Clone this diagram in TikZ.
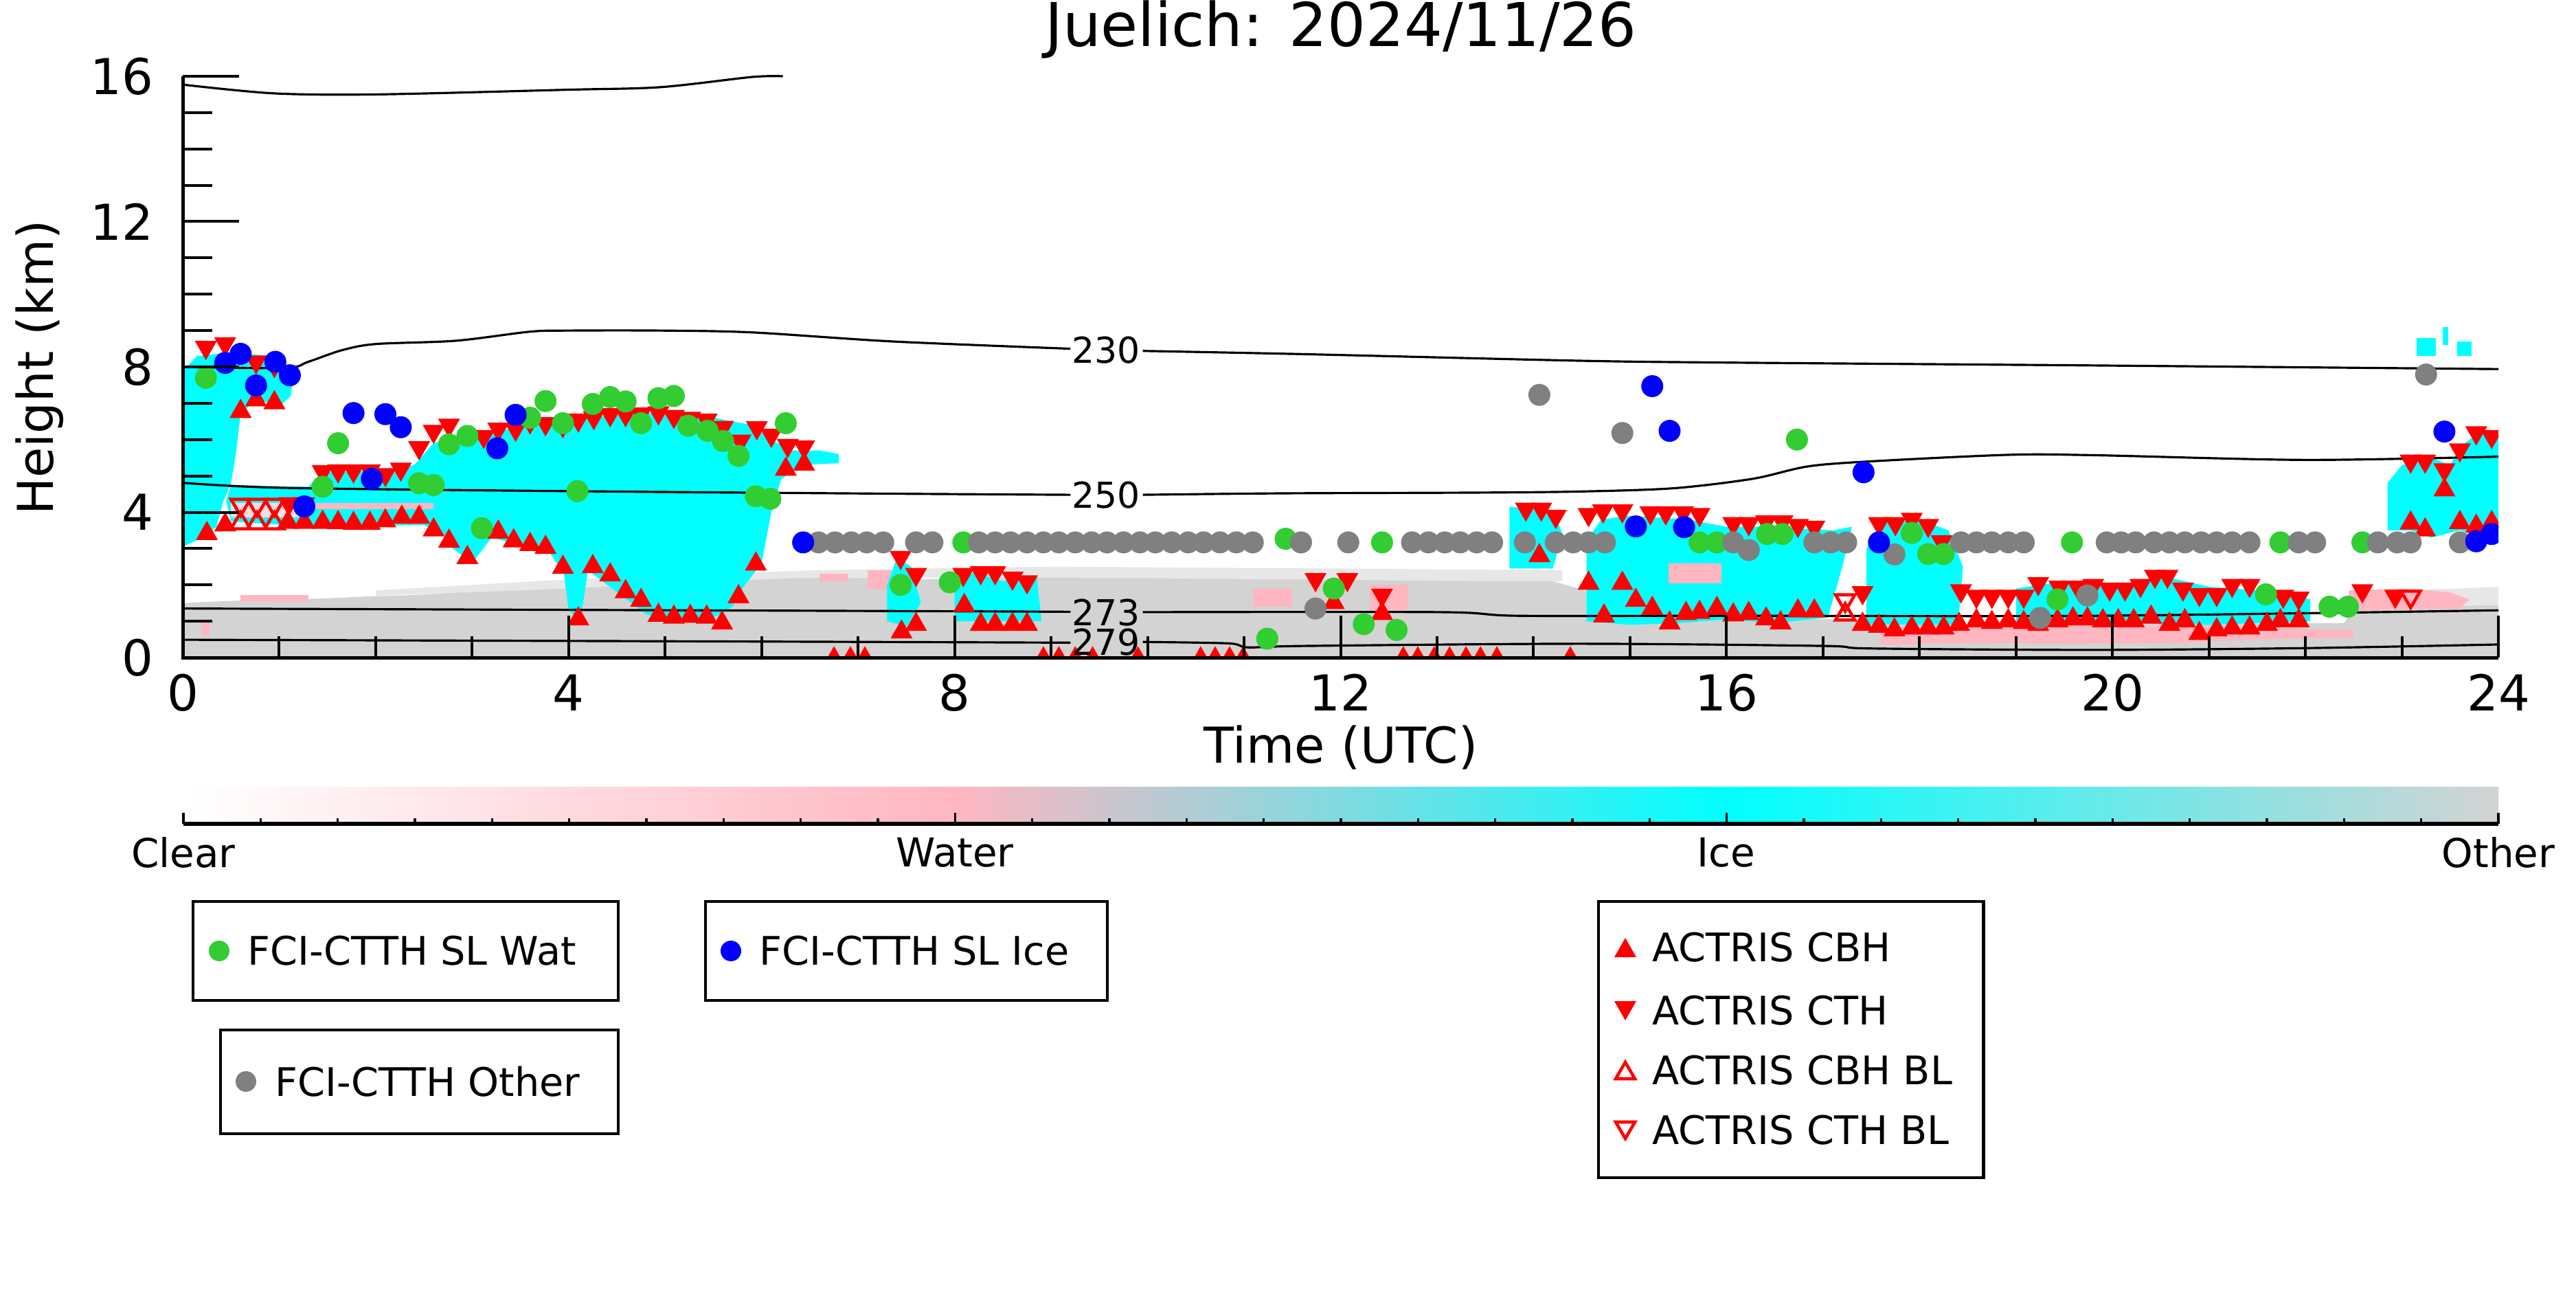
\documentclass[tikz,border=0pt]{standalone}
\usepackage{fontspec}
\setmainfont{DejaVu Sans}
\usetikzlibrary{positioning}

\definecolor{icecyan}{HTML}{00FFFF}
\definecolor{watpink}{HTML}{FFB6C1}
\definecolor{othgray}{HTML}{D3D3D3}
\definecolor{watgreen}{HTML}{32CD32}
\definecolor{iceblue}{HTML}{0000FF}
\definecolor{dotgray}{HTML}{808080}

\tikzset{
  isoline/.style={black, line width=0.9pt},
  isolab/.style={inner sep=0pt, font=\fontsize{14.8}{17}\selectfont},
  ticklab/.style={font=\fontsize{20.5}{24}\selectfont},
  cblab/.style={font=\fontsize{16.5}{20}\selectfont},
  legbox/.style={draw=black, line width=1.4pt},
  legtext/.style={anchor=west, inner sep=0pt, font=\fontsize{16.3}{20}\selectfont},
  pics/cbhmark/.style={code={\fill[red] (0,0.14cm) -- (-0.16cm,-0.14cm) -- (0.16cm,-0.14cm) -- cycle;}},
  pics/cthmark/.style={code={\fill[red] (0,-0.14cm) -- (-0.16cm,0.14cm) -- (0.16cm,0.14cm) -- cycle;}},
  pics/cbhblmark/.style={code={\draw[red, line width=1.3pt] (0,0.12cm) -- (-0.14cm,-0.12cm) -- (0.14cm,-0.12cm) -- cycle;}},
  pics/cthblmark/.style={code={\draw[red, line width=1.3pt] (0,-0.12cm) -- (-0.14cm,0.12cm) -- (0.14cm,0.12cm) -- cycle;}},
}

\begin{document}
\begin{tikzpicture}
\useasboundingbox (0,0) rectangle (37.5,18.75);

\node[font=\fontsize{25}{30}\selectfont] (title) at (19.52,18.32) {Juelich: 2024/11/26};

% time-height panel
\begin{scope}[shift={(2.66,9.18)}, x=1.4046cm, y=0.52875cm]
\begin{scope}
\clip (0,0) rectangle (24,16.6);

% target classification
\fill[othgray] (0,0) -- (0,1.5) -- (0.4,1.55) -- (0.9,1.6) -- (1.4,1.62) -- (1.9,1.68) -- (2.4,1.72) -- (2.9,1.8) -- (3.4,1.85) -- (3.9,1.9) -- (4.4,2.0) -- (4.9,2.05) -- (5.4,2.1) -- (5.9,2.15) -- (6.4,2.2) -- (7.0,2.2) -- (7.6,2.15) -- (8.2,2.2) -- (8.8,2.25) -- (9.4,2.2) -- (10.0,2.25) -- (10.6,2.2) -- (11.2,2.15) -- (11.8,2.2) -- (12.4,2.15) -- (13.0,2.2) -- (13.6,2.1) -- (14.2,2.1) -- (14.6,1.8) -- (15.0,1.1) -- (17.3,1.05) -- (17.6,0.9) -- (22.4,0.95) -- (22.5,1.35) -- (23.2,1.4) -- (24,1.45) -- (24,0) -- cycle;
\fill[othgray!55] (2.0,1.7) -- (4.0,1.9) -- (6.4,2.2) -- (9.4,2.2) -- (13.6,2.1) -- (14.3,2.1) -- (14.3,2.4) -- (12.0,2.45) -- (9.0,2.5) -- (6.5,2.4) -- (4.0,2.15) -- (2.0,1.85) -- cycle;
\fill[othgray!55] (22.5,1.85) -- (23.6,1.9) -- (24,1.95) -- (24,1.45) -- (22.5,1.35) -- cycle;

\fill[watpink] (17.6,0.35) -- (17.6,0.85) -- (18.5,0.88) -- (19.3,0.92) -- (20.2,0.85) -- (21.0,0.88) -- (21.8,0.8) -- (22.5,0.75) -- (22.5,0.55) -- (21.5,0.5) -- (20.6,0.4) -- (19.6,0.38) -- (18.6,0.4) -- cycle;
\fill[watpink] (22.45,1.3) -- (22.45,1.85) -- (23.0,1.9) -- (23.5,1.8) -- (23.7,1.6) -- (23.6,1.35) -- cycle;
\fill[watpink] (0.6,1.55) rectangle (1.3,1.72);
\fill[watpink] (0.2,0.6) rectangle (0.28,1.0);
\fill[watpink] (7.1,1.9) rectangle (7.35,2.4);
\fill[watpink] (6.6,2.1) rectangle (6.9,2.3);
\fill[watpink] (11.1,1.4) rectangle (11.5,1.9);
\fill[watpink] (12.3,1.3) rectangle (12.7,2.0);

% ice
\fill[icecyan] (0,3.05) -- (0,7.9) -- (0.15,8.3) -- (0.5,8.4) -- (0.9,8.3) -- (1.15,7.95) -- (1.12,7.2) -- (1.0,6.9) -- (0.85,7.05) -- (0.7,6.95) -- (0.6,6.7) -- (0.55,5.6) -- (0.5,4.8) -- (0.42,4.3) -- (0.35,3.6) -- (0.2,3.3) -- cycle;
\fill[icecyan] (0.45,4.3) -- (0.5,4.75) -- (1.3,4.7) -- (1.45,5.1) -- (2.1,5.15) -- (2.4,5.3) -- (2.6,5.9) -- (2.8,6.05) -- (3.2,6.2) -- (3.6,6.4) -- (4.0,6.5) -- (4.5,6.7) -- (5.0,6.75) -- (5.5,6.6) -- (5.9,6.4) -- (6.1,6.0) -- (6.3,5.7) -- (6.6,5.7) -- (6.8,5.6) -- (6.8,5.35) -- (6.4,5.3) -- (6.2,4.9) -- (6.1,4.0) -- (6.05,3.3) -- (6.0,2.6) -- (5.8,1.9) -- (5.7,1.4) -- (5.5,1.1) -- (5.0,1.05) -- (4.8,1.2) -- (4.6,1.6) -- (4.4,2.0) -- (4.2,2.4) -- (4.12,1.0) -- (4.0,1.3) -- (3.95,2.3) -- (3.8,2.9) -- (3.5,3.1) -- (3.2,3.3) -- (3.0,2.6) -- (2.8,3.0) -- (2.7,3.4) -- (2.5,3.65) -- (1.3,3.6) -- (0.5,3.75) -- cycle;
\fill[icecyan] (7.3,1.0) -- (7.3,2.0) -- (7.4,2.75) -- (7.55,2.5) -- (7.65,1.5) -- (7.5,0.85) -- cycle;
\fill[icecyan] (8.0,1.0) -- (8.0,2.0) -- (8.2,2.35) -- (8.5,2.1) -- (8.85,2.25) -- (8.9,1.0) -- cycle;
\fill[icecyan] (13.75,2.45) -- (13.75,4.15) -- (14.2,4.05) -- (14.3,3.4) -- (14.2,2.45) -- cycle;
\fill[icecyan] (14.55,1.0) -- (14.55,3.2) -- (14.7,3.8) -- (15.0,3.9) -- (15.6,3.8) -- (16.0,3.6) -- (16.5,3.6) -- (17.1,3.5) -- (17.3,3.6) -- (17.2,2.5) -- (17.05,1.1) -- (16.5,0.95) -- (16.0,1.05) -- (15.5,0.95) -- (15.0,0.9) -- cycle;
\fill[icecyan] (17.45,0.9) -- (17.45,3.0) -- (17.6,3.7) -- (18.0,3.8) -- (18.3,3.5) -- (18.45,2.5) -- (18.4,0.9) -- cycle;
\fill[icecyan] (19.0,0.95) -- (19.0,1.9) -- (19.5,2.1) -- (20.0,1.95) -- (20.5,2.25) -- (21.0,1.95) -- (21.5,1.85) -- (22.05,1.6) -- (22.05,1.0) -- (21.0,0.9) -- (20.0,0.95) -- cycle;
\fill[icecyan] (22.85,3.5) -- (22.85,4.8) -- (23.0,5.3) -- (23.3,5.5) -- (23.5,5.3) -- (23.6,5.8) -- (23.8,6.2) -- (24,6.2) -- (24,3.2) -- (23.6,3.5) -- (23.3,3.3) -- (23.1,3.5) -- cycle;
\fill[icecyan] (23.15,8.3) rectangle (23.35,8.8);
\fill[icecyan] (23.42,8.6) rectangle (23.48,9.1);
\fill[icecyan] (23.57,8.3) rectangle (23.72,8.7);
\fill[watpink] (15.4,2.05) rectangle (15.95,2.6);
\fill[watpink] (1.25,4.08) rectangle (2.6,4.25);
\fill[watpink!50] (0.5,3.85) rectangle (1.2,4.25);

% isotherms
\draw[isoline] plot[smooth] coordinates {(0,15.77) (0.94,15.53) (2.0,15.5) (4.0,15.63) (4.95,15.7) (5.9,15.98) (6.22,16.0)};
\draw[isoline] plot[smooth] coordinates {(0,8.0) (1.06,7.97) (1.3,8.14) (1.65,8.46) (2.0,8.63) (2.83,8.72) (3.6,8.97) (4.0,9.0) (4.95,9.0) (5.9,8.95) (7.36,8.7) (9.2,8.5)};
\draw[isoline] plot[smooth] coordinates {(9.95,8.44) (11.64,8.35) (14.48,8.17) (15.98,8.12) (19.81,8.04) (24,7.94)};
\draw[isoline] plot[smooth] coordinates {(0,4.81) (1.06,4.67) (4.0,4.58) (7.36,4.51) (9.2,4.48)};
\draw[isoline] plot[smooth] coordinates {(9.95,4.48) (11.39,4.52) (13.41,4.54) (14.48,4.57) (15.45,4.66) (16.27,4.92) (16.84,5.26) (17.49,5.4) (18.92,5.58) (19.81,5.57) (22.0,5.44) (24,5.53)};
\draw[isoline] plot[smooth] coordinates {(0,1.35) (7.36,1.28) (9.2,1.26)};
\draw[isoline] plot[smooth] coordinates {(9.95,1.25) (13.04,1.25) (13.84,1.15) (16,1.15) (19.81,1.15) (24,1.3)};
\draw[isoline] plot[smooth] coordinates {(0,0.49) (6.02,0.44) (9.2,0.41)};
\draw[isoline] plot[smooth] coordinates {(9.95,0.43) (10.84,0.39) (11.04,0.28) (11.64,0.32) (14.48,0.38) (17.0,0.32) (17.49,0.25) (19.81,0.21) (22,0.26) (24,0.36)};

% ACTRIS cloud base / top
\foreach \h/\k in {0.24/8.45, 0.44/8.55, 0.76/8.05, 0.95/7.95, 1.1/4.15, 1.26/4.15, 1.45/5.03, 1.61/5.05, 1.77/5.05, 1.94/5.05, 2.1/4.95, 2.26/5.1, 2.45/5.69, 2.6/6.14, 2.76/6.31, 3.12/6.0, 3.27/6.2, 3.45/6.2, 3.6/6.4, 3.76/6.35, 3.94/6.3, 4.1/6.45, 4.26/6.52, 4.43/6.6, 4.59/6.6, 4.75/6.62, 4.93/6.65, 5.09/6.55, 5.26/6.5, 5.43/6.45, 5.6/6.25, 5.78/5.87, 5.95/6.24, 6.1/6.03, 6.27/5.75, 6.44/5.71,
  7.44/2.67, 7.6/2.2, 8.09/2.2, 8.27/2.25, 8.42/2.25, 8.6/2.1, 8.75/2.0, 11.74/2.06, 12.07/2.06, 12.43/1.63,
  13.92/4.0, 14.08/4.0, 14.23/3.8, 14.57/3.85, 14.72/3.95, 14.92/3.95, 15.21/3.9, 15.37/3.9, 15.55/3.9, 15.72/3.85, 16.07/3.6, 16.23/3.6, 16.41/3.65, 16.58/3.65, 16.74/3.55, 16.91/3.5, 17.41/1.7, 17.58/3.6, 17.75/3.6, 17.92/3.72, 18.09/3.55, 18.23/3.1,
  18.43/1.75, 18.59/1.6, 18.75/1.6, 18.92/1.6, 19.08/1.6, 19.23/1.95, 19.45/1.85, 19.64/1.85, 19.8/1.9, 19.97/1.8, 20.13/1.8, 20.29/1.9, 20.44/2.15, 20.57/2.15, 20.73/1.8, 20.9/1.65, 21.08/1.65, 21.24/1.9, 21.42/1.9, 21.77/1.6, 21.93/1.55, 22.59/1.75, 22.93/1.6,
  23.09/5.32, 23.24/5.32, 23.44/5.08, 23.6/5.63, 23.77/6.1, 23.93/6.0}
  \pic at (\h,\k) {cthmark};
\foreach \h/\k in {0.25/3.5, 0.44/3.74, 0.6/6.86, 0.76/7.18, 0.95/7.1, 1.09/3.81, 1.26/3.81, 1.45/3.81, 1.61/3.8, 1.77/3.78, 1.94/3.78, 2.1/3.85, 2.27/3.95, 2.45/3.95, 2.6/3.6, 2.76/3.29, 2.95/2.84, 3.27/3.54, 3.43/3.3, 3.6/3.2, 3.76/3.12, 3.94/2.57, 4.1/1.15, 4.25/2.59, 4.43/2.36, 4.59/1.9, 4.75/1.66, 4.93/1.25, 5.09/1.2, 5.26/1.22, 5.43/1.2, 5.59/1.04, 5.76/1.76, 5.94/2.66, 6.25/5.27, 6.44/5.41,
  6.75/0.05, 6.92/0.05, 7.07/0.05, 8.92/0.05, 9.08/0.05, 9.25/0.05, 9.43/0.05, 9.9/0.05, 10.55/0.05, 10.7/0.05, 10.85/0.05, 10.99/0.05, 12.65/0.05, 12.8/0.05, 12.97/0.05, 13.13/0.05, 13.3/0.05, 13.45/0.05, 13.62/0.05, 14.38/0.05,
  7.45/0.79, 7.6/1.0, 8.1/1.52, 8.27/1.0, 8.42/1.0, 8.6/1.0, 8.75/1.0, 11.93/1.6, 12.43/1.3,
  14.06/2.89, 14.57/2.13, 14.73/1.23, 14.92/2.13, 15.06/1.66, 15.23/1.44, 15.41/1.04, 15.58/1.3, 15.72/1.33, 15.9/1.44, 16.07/1.26, 16.23/1.3, 16.41/1.15, 16.56/1.04, 16.74/1.37, 16.91/1.37,
  17.41/1.0, 17.58/0.95, 17.74/0.85, 17.92/0.9, 18.09/0.9, 18.25/0.9, 18.41/1.0, 18.59/1.1, 18.75/1.05, 18.92/1.1, 19.08/1.05, 19.23/1.0, 19.43/1.1, 19.59/1.15, 19.74/1.15, 19.9/1.1, 20.06/1.1, 20.22/1.1, 20.4/1.2, 20.59/1.0, 20.75/1.1, 20.9/0.75, 21.08/0.85, 21.24/0.9, 21.42/0.9, 21.6/1.0, 21.74/1.1, 21.93/1.1,
  23.09/3.79, 23.24/3.6, 23.44/4.7, 23.6/3.8, 23.77/3.7, 23.93/3.8}
  \pic at (\h,\k) {cbhmark};
\foreach \h/\k in {0.6/4.13, 0.77/4.13, 0.95/4.13, 17.23/1.5, 23.09/1.6}
  \pic at (\h,\k) {cthblmark};
\foreach \h/\k in {0.6/3.77, 0.77/3.77, 0.95/3.77, 17.23/1.26}
  \pic at (\h,\k) {cbhblmark};

% FCI-CTTH
\foreach \h/\k in {0.24/7.7, 1.45/4.7, 1.61/5.9, 2.45/4.8, 2.6/4.75, 2.76/5.87, 2.95/6.1, 3.1/3.56, 3.6/6.6, 3.76/7.06, 3.94/6.45, 4.09/4.58, 4.25/6.98, 4.43/7.17, 4.59/7.05, 4.75/6.45, 4.93/7.14, 5.09/7.2, 5.24/6.38, 5.44/6.24, 5.6/5.96, 5.76/5.55, 5.94/4.44, 6.09/4.37, 6.25/6.45, 7.44/2.0, 7.95/2.07, 8.09/3.17, 11.24/0.52, 11.43/3.27, 11.93/1.9, 12.24/0.92, 12.43/3.17, 12.58/0.76, 15.72/3.17, 15.9/3.17, 16.42/3.4, 16.58/3.4, 16.73/6.0, 17.92/3.43, 18.09/2.85, 18.25/2.85, 19.43/1.6, 19.58/3.17, 21.59/1.74, 21.74/3.17, 22.25/1.4, 22.44/1.4, 22.59/3.17}
  \fill[watgreen] (\h,\k) circle[radius=0.16cm];
\foreach \h in {6.59, 6.76, 6.93, 7.09, 7.26, 7.6, 7.77, 8.25, 8.42, 8.58, 8.75, 8.92, 9.08, 9.25, 9.42, 9.58, 9.75, 9.92, 10.08, 10.25, 10.42, 10.58, 10.75, 10.92, 11.09, 11.59, 12.08, 12.74, 12.91, 13.08, 13.24, 13.41, 13.57, 13.91, 14.23, 14.41, 14.57, 14.74, 16.07, 16.91, 17.08, 17.24, 18.43, 18.59, 18.75, 18.92, 19.08, 19.94, 20.09, 20.24, 20.43, 20.59, 20.75, 20.92, 21.08, 21.24, 21.42, 21.93, 22.1, 22.75, 22.95, 23.09, 23.6}
  \fill[dotgray] (\h,3.17) circle[radius=0.16cm];
\foreach \h/\k in {11.74/1.35, 14.06/7.23, 14.92/6.18, 16.23/2.96, 17.74/2.84, 19.25/1.09, 19.74/1.71, 23.25/7.79}
  \fill[dotgray] (\h,\k) circle[radius=0.16cm];
\foreach \h/\k in {0.44/8.11, 0.6/8.36, 0.76/7.49, 0.96/8.14, 1.11/7.77, 1.26/4.16, 1.77/6.73, 1.96/4.92, 2.1/6.7, 2.26/6.34, 3.26/5.76, 3.45/6.68, 6.43/3.17, 15.06/3.61, 15.23/7.47, 15.41/6.24, 15.56/3.59, 17.42/5.1, 17.58/3.17, 23.44/6.22, 23.77/3.2, 23.93/3.4}
  \fill[iceblue] (\h,\k) circle[radius=0.16cm];
\end{scope}

% isotherm labels
\node[isolab] (t230) at (9.57,8.46) {230};
\node[isolab] (t250) at (9.57,4.48) {250};
\node[isolab] (t273) at (9.57,1.23) {273};
\node[isolab] (t279) at (9.57,0.43) {279};

% axes
\foreach \t in {1,...,23}
  \draw[line width=0.04cm] (\t,0) -- ++(0,0.31cm);
\foreach \t in {0,4,...,24} {
  \draw[line width=0.04cm] (\t,0) -- ++(0,0.61cm);
  \node[ticklab] (xt\t) at ([yshift=-0.51cm]\t,0) {\t};
}
\foreach \k in {1,...,15}
  \draw[line width=0.04cm] (0,\k) -- ++(0.43cm,0);
\foreach \k in {0,4,...,16} {
  \draw[line width=0.04cm] (0,\k) -- ++(0.82cm,0);
  \node[ticklab, anchor=east, inner sep=0pt] (yt\k) at ([xshift=-0.42cm]0,\k) {\k};
}
\draw[line width=0.05cm] (0,16) -- (0,0) -- (24,0);
\end{scope}

\node[ticklab, rotate=90] (ylab) at (0.58,13.40) {Height (km)};
\node[ticklab] (xlab) at (19.52,7.87) {Time (UTC)};

% colour bar
\shade[left color=white, right color=watpink] (2.67,6.76) rectangle (13.91,7.30);
\shade[left color=watpink, right color=icecyan] (13.90,6.76) rectangle (25.14,7.30);
\shade[left color=icecyan, right color=othgray] (25.13,6.76) rectangle (36.37,7.30);
\foreach \i in {0,...,30}
  \draw[line width=0.035cm] (2.67+\i*1.12333,6.76) -- ++(0,0.085);
\foreach \i in {0,1,2,3}
  \draw[line width=0.035cm] (2.67+\i*11.2333,6.76) -- ++(0,0.16);
\draw[line width=0.06cm] (2.67,6.76) -- (36.37,6.76);
\node[cblab] (cclear) at (2.67,6.34) {Clear};
\node[cblab] (cwater) at (13.90,6.34) {Water};
\node[cblab] (cice) at (25.13,6.34) {Ice};
\node[cblab] (cother) at (36.37,6.34) {Other};

% legends
\draw[legbox] (2.81,4.19) rectangle (9.00,5.63);
\fill[watgreen] (3.19,4.91) circle[radius=0.15];
\node[legtext] (lwat) at (3.60,4.91) {FCI-CTTH SL Wat};
\draw[legbox] (10.27,4.19) rectangle (16.12,5.63);
\fill[iceblue] (10.64,4.91) circle[radius=0.15];
\node[legtext] (lice) at (11.05,4.91) {FCI-CTTH SL Ice};
\draw[legbox] (3.21,2.25) rectangle (9.00,3.76);
\fill[dotgray] (3.58,3.01) circle[radius=0.15];
\node[legtext] (loth) at (4.00,3.01) {FCI-CTTH Other};
\draw[legbox] (23.27,1.61) rectangle (28.87,5.63);
\pic at (23.66,4.96) {cbhmark};
\node[legtext] (lcbh) at (24.05,4.96) {ACTRIS CBH};
\pic at (23.66,4.04) {cthmark};
\node[legtext] (lcth) at (24.05,4.04) {ACTRIS CTH};
\pic at (23.66,3.17) {cbhblmark};
\node[legtext] (lcbhbl) at (24.05,3.17) {ACTRIS CBH BL};
\pic at (23.66,2.30) {cthblmark};
\node[legtext] (lcthbl) at (24.05,2.30) {ACTRIS CTH BL};
\end{tikzpicture}
\end{document}
